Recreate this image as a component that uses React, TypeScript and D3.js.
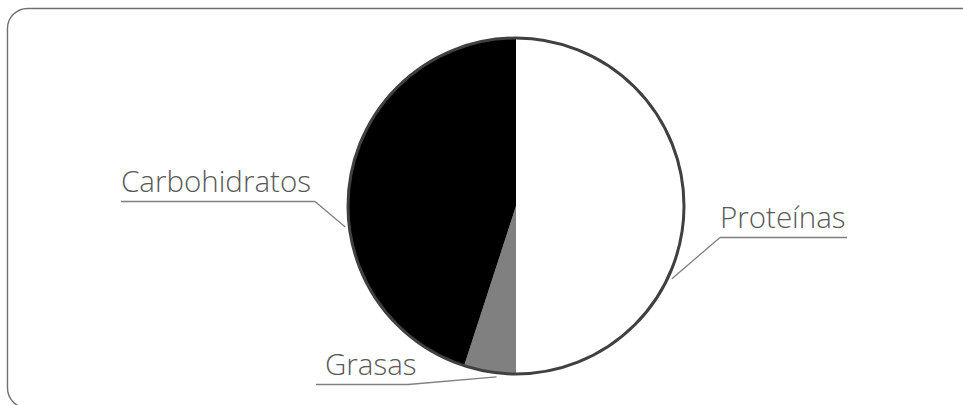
import React, { useEffect, useRef } from "react";
import { select, pie, arc, PieArcDatum } from "d3";

// chart data
const categories = ["Proteínas", "Grasas", "Carbohidratos"];
const values = [50, 5, 45];
const sliceColors = ["#ffffff", "#808080", "#000000"];
// where each label sits and which angle (deg, clockwise from top) its leader meets the pie
const labelPos = [
    { x: 720, y: 228, lineFrom: 720, lineTo: 847, side: "left", leaderDeg: 115 },
    { x: 325, y: 375, lineFrom: 316, lineTo: 408, side: "right", leaderDeg: 186.5 },
    { x: 121, y: 192, lineFrom: 121, lineTo: 315, side: "right", leaderDeg: 263 },
];

const W = 963;
const H = 405;

type Row = { name: string; value: number; color: string };

const App = () => {
    const ref = useRef<SVGSVGElement>(null);

    useEffect(() => {
        const svg = select(ref.current);
        svg.selectAll("*").remove();

        // outer frame (runs off the right and bottom edges)
        svg
            .append("rect")
            .attr("x", 7.5)
            .attr("y", 8.5)
            .attr("width", 975)
            .attr("height", 399.5)
            .attr("rx", 20)
            .attr("fill", "#fff")
            .attr("stroke", "#6f6f6f")
            .attr("stroke-width", 1.4);

        const cx = 516;
        const cy = 206;
        const r = 168;

        const rows: Row[] = categories.map((c, i) => ({
            name: c,
            value: values[i],
            color: sliceColors[i],
        }));

        const arcs = pie<Row>().sort(null).value((d) => d.value)(rows);
        const arcGen = arc<PieArcDatum<Row>>().innerRadius(0).outerRadius(r);

        const g = svg.append("g").attr("transform", `translate(${cx},${cy})`);
        g.selectAll("path.slice")
            .data(arcs)
            .enter()
            .append("path")
            .attr("class", "slice")
            .attr("d", arcGen)
            .attr("fill", (d) => d.data.color);

        // outline
        g.append("circle")
            .attr("r", r)
            .attr("fill", "none")
            .attr("stroke", "#404040")
            .attr("stroke-width", 3);

        // labels with leader lines
        labelPos.forEach((lp, i) => {
            const a = (lp.leaderDeg * Math.PI) / 180;
            const ex = cx + Math.sin(a) * (r + 4);
            const ey = cy - Math.cos(a) * (r + 4);
            const uy = lp.y + 9.5;
            const startX = lp.side === "left" ? lp.lineFrom : lp.lineTo;
            svg
                .append("path")
                .attr("d", `M${lp.lineFrom},${uy}L${lp.lineTo},${uy}M${startX},${uy}L${ex},${ey}`)
                .attr("fill", "none")
                .attr("stroke", "#7f7f7f")
                .attr("stroke-width", 1.3);
            svg
                .append("text")
                .attr("x", lp.x)
                .attr("y", lp.y)
                .attr("font-family", "'Open Sans', Lato, sans-serif")
                .attr("font-weight", 300)
                .attr("font-size", 29.5)
                .attr("fill", "#595959")
                .text(categories[i]);
        });
    }, []);

    return (
        <svg
            ref={ref}
            width={W}
            height={H}
            style={{ position: "absolute", left: 0, top: 0 }}
        />
    );
};

export default App;
